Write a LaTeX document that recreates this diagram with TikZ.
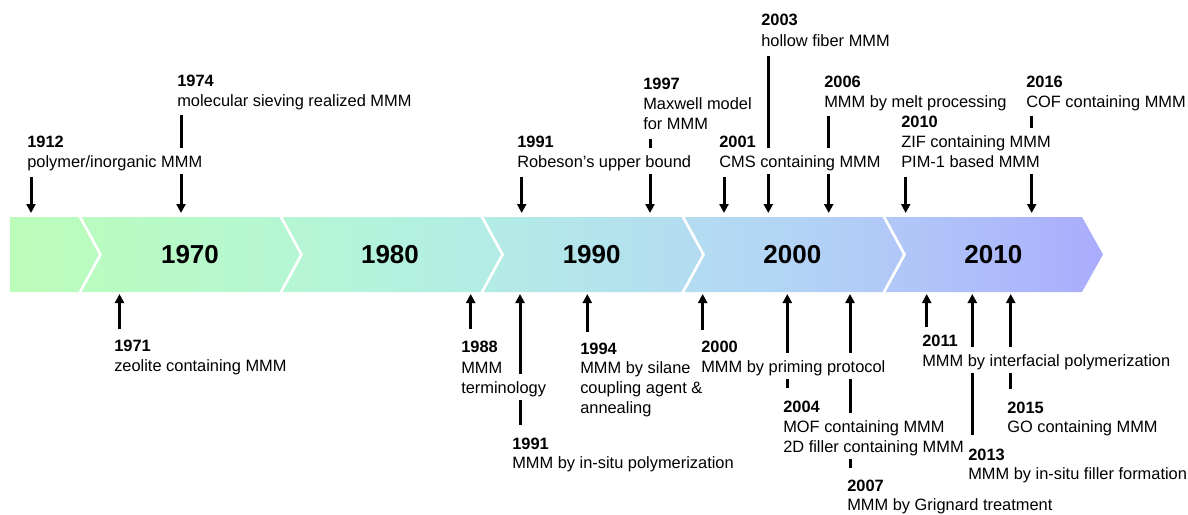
\documentclass[tikz,border=0pt]{standalone}
\usepackage{fontspec}
\setmainfont{Liberation Sans}
\usetikzlibrary{arrows.meta}
\definecolor{g0}{RGB}{188,252,186}
\definecolor{g1}{RGB}{183,249,202}
\definecolor{g2}{RGB}{179,242,222}
\definecolor{g3}{RGB}{179,228,236}
\definecolor{g4}{RGB}{179,212,245}
\definecolor{g5}{RGB}{174,188,250}
\definecolor{g6}{RGB}{170,172,253}
\pgfdeclarehorizontalshading{bandshade}{100bp}{color(0bp)=(g0); color(25bp)=(g0); color(33.65bp)=(g1); color(42.35bp)=(g2); color(51.5bp)=(g3); color(60.7bp)=(g4); color(69.85bp)=(g5); color(75bp)=(g6); color(100bp)=(g6)}
\pgfdeclarelayer{lines}
\pgfdeclarelayer{boxes}
\pgfsetlayers{lines,boxes,main}
\tikzset{
  arr/.style={line width=2.25pt, -{Triangle[length=6.75pt,width=6.75pt]}},
  txt/.style={anchor=base west, inner xsep=0.75pt, inner ysep=0pt, text height=12.75pt, text depth=3.75pt, font=\fontsize{12.3}{14}\selectfont},
  yr/.style={txt, font=\fontsize{12.3}{14}\selectfont\bfseries},
  big/.style={font=\fontsize{19.5}{22}\selectfont\bfseries, inner sep=0pt},
  sepline/.style={white, line width=2pt}
}
\begin{document}
\begin{tikzpicture}[x=0.75pt,y=-0.75pt]
\useasboundingbox (0,0) rectangle (1188,514);
\begin{pgfonlayer}{lines}
% band
\path[shading=bandshade] (10.7,217) -- (1082,217) -- (1103,254.5) -- (1082,292) -- (10.7,292) -- cycle;
\foreach \b in {79.5,280.5,481.5,682.5,883.5}
  \draw[sepline] (\b,216) -- (\b+21,254.5) -- (\b,293);

% ---------- arrows (labels' white boxes cover them) ----------
% top
\coordinate (s1912) at (31,177);   \coordinate (e1912) at (31,213);
\coordinate (s1974) at (181,115);  \coordinate (e1974) at (181,213);
\coordinate (s1991t) at (521.7,177); \coordinate (e1991t) at (521.7,213);
\coordinate (s1997) at (650,139);  \coordinate (e1997) at (650,213);
\coordinate (s2001) at (724,177);  \coordinate (e2001) at (724,213);
\coordinate (s2003) at (768.3,56); \coordinate (e2003) at (768.3,213);
\coordinate (s2006) at (828.7,116); \coordinate (e2006) at (828.7,213);
\coordinate (s2010) at (905.7,177); \coordinate (e2010) at (905.7,213);
\coordinate (s2016) at (1031.7,116); \coordinate (e2016) at (1031.7,213);
% bottom
\coordinate (s1971) at (119.5,329); \coordinate (e1971) at (119.5,294);
\coordinate (s1988) at (470.7,328.5); \coordinate (e1988) at (470.7,294);
\coordinate (s1991b) at (520,425); \coordinate (e1991b) at (520,294);
\coordinate (s1994) at (587.3,331.5); \coordinate (e1994) at (587.3,294);
\coordinate (s2000) at (702.7,330); \coordinate (e2000) at (702.7,294);
\coordinate (s2004) at (787.3,388); \coordinate (e2004) at (787.3,294);
\coordinate (s2007) at (850,468); \coordinate (e2007) at (850,294);
\coordinate (s2011) at (926.7,328); \coordinate (e2011) at (926.7,294);
\coordinate (s2013) at (972.3,435); \coordinate (e2013) at (972.3,294);
\coordinate (s2015) at (1010.7,389); \coordinate (e2015) at (1010.7,294);

\foreach \n in {1912,1974,1991t,1997,2001,2003,2006,2010,2016,1971,1988,1991b,1994,2000,2004,2007,2011,2013,2015}
  \draw[arr] (s\n) -- (e\n);
\end{pgfonlayer}

\node[big] (d1970) at (190,254.6) {1970};
\node[big] (d1980) at (390,254.6) {1980};
\node[big] (d1990) at (591.7,254.6) {1990};
\node[big] (d2000) at (792.3,254.6) {2000};
\node[big] (d2010) at (993.3,254.6) {2010};

% ---------- top labels ----------
\node[yr]  (y1912) at (26,147) {1912};
\node[txt] (a1912) at (26,167) {polymer/inorganic MMM};
\node[yr]  (y1974) at (176,86) {1974};
\node[txt] (a1974) at (176,106.5) {molecular sieving realized MMM};
\node[yr]  (y1991t) at (516,147) {1991};
\node[txt] (a1991t) at (516,167) {Robeson’s upper bound};
\node[yr]  (y1997) at (642,89) {1997};
\node[txt] (a1997) at (642,109) {Maxwell model};
\node[txt] (b1997) at (642,129) {for MMM};
\node[yr]  (y2001) at (718,147) {2001};
\node[txt] (a2001) at (718,167) {CMS containing MMM};
\node[yr]  (y2003) at (760,26) {2003};
\node[txt] (a2003) at (760,46) {hollow fiber MMM};
\node[yr]  (y2006) at (823,87) {2006};
\node[txt] (a2006) at (823,107) {MMM by melt processing};
\node[yr]  (y2010) at (900,127) {2010};
\node[txt] (a2010) at (900,147) {ZIF containing MMM};
\node[txt] (b2010) at (900,167) {PIM-1 based MMM};
\node[yr]  (y2016) at (1025,87) {2016};
\node[txt] (a2016) at (1025,107) {COF containing MMM};

% ---------- bottom labels ----------
\node[yr]  (y1971) at (113,351) {1971};
\node[txt] (a1971) at (113,371) {zeolite containing MMM};
\node[yr]  (y1988) at (460,352.5) {1988};
\node[txt] (a1988) at (460,373) {MMM};
\node[txt] (b1988) at (460,393) {terminology};
\node[yr]  (y1991b) at (511,449) {1991};
\node[txt] (a1991b) at (511,468.5) {MMM by in-situ polymerization};
\node[yr]  (y1994) at (579,354) {1994};
\node[txt] (a1994) at (579,373.5) {MMM by silane};
\node[txt] (b1994) at (579,393) {coupling agent \&};
\node[txt] (c1994) at (579,413) {annealing};
\node[yr]  (y2000) at (700,352.5) {2000};
\node[txt] (a2000) at (700,372) {MMM by priming protocol};
\node[yr]  (y2004) at (782,412) {2004};
\node[txt] (a2004) at (782,432) {MOF containing MMM};
\node[txt] (b2004) at (782,452) {2D filler containing MMM};
\node[yr]  (y2007) at (846,491) {2007};
\node[txt] (a2007) at (846,510.5) {MMM by Grignard treatment};
\node[yr]  (y2011) at (921,346.7) {2011};
\node[txt] (a2011) at (921,366) {MMM by interfacial polymerization};
\node[yr]  (y2013) at (967,460) {2013};
\node[txt] (a2013) at (967,479.5) {MMM by in-situ filler formation};
\node[yr]  (y2015) at (1006,413) {2015};
\node[txt] (a2015) at (1006,432.7) {GO containing MMM};

% white boxes behind every label line, cutting the arrows
\begin{pgfonlayer}{boxes}
\foreach \n in {y1912,a1912,y1974,a1974,y1991t,a1991t,y1997,a1997,b1997,y2001,a2001,y2003,a2003,y2006,a2006,y2010,a2010,b2010,y2016,a2016,
  y1971,a1971,y1988,a1988,b1988,y1991b,a1991b,y1994,a1994,b1994,c1994,y2000,a2000,y2004,a2004,b2004,y2007,a2007,y2011,a2011,y2013,a2013,y2015,a2015}
  \fill[white] ([yshift=-1.5pt]\n.south west) rectangle ([yshift=1.5pt]\n.north east);
\end{pgfonlayer}
\end{tikzpicture}
\end{document}
